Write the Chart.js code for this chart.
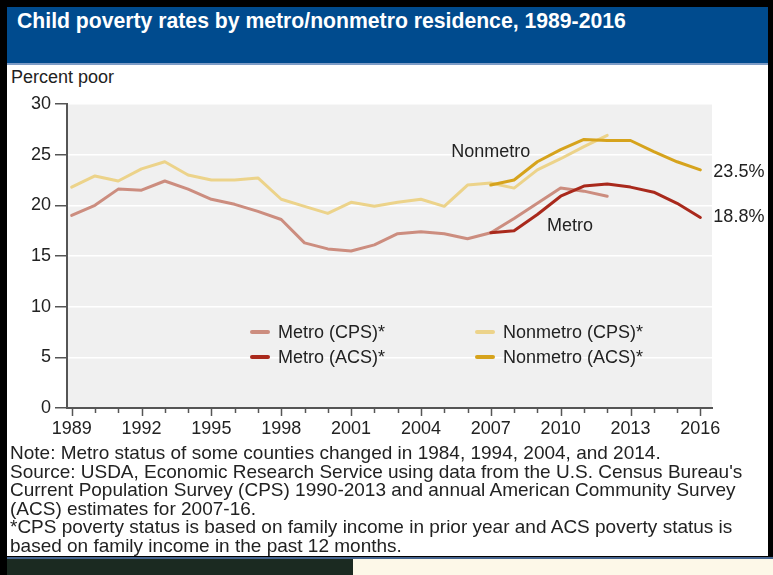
<!DOCTYPE html>
<html lang="en">
<head>
    <meta charset="UTF-8">
    <title>Child poverty rates by metro/nonmetro residence</title>
    <script src="https://cdn.jsdelivr.net/npm/chart.js"></script>
    <style>
        body { margin: 0; width: 773px; height: 575px; background: #000; position: relative; overflow: hidden;
               font-family: "Liberation Sans", Arial, sans-serif; color: #222; }
        .box { position: absolute; white-space: nowrap; }
        #panel { left: 7px; top: 7px; width: 761px; height: 549px; background: #fff; }
        #titleBar { left: 7px; top: 7px; width: 761px; height: 56px; background: #004b8e; border-bottom: 2px solid #7d9cc6; }
        #title { left: 17px; top: 9px; color: #fff; font-weight: bold; font-size: 21.2px; }
        #yTitle { left: 11px; top: 67px; font-size: 18px; }
        #chartWrap { left: 0; top: 65px; width: 773px; height: 380px; }
        #notes { left: 10px; top: 444px; width: 760px; font-size: 19px; line-height: 18.6px; }
        #rule { left: 7px; top: 557px; width: 766px; height: 2px; background: #46658f; }
        #darkBlock { left: 7px; top: 559px; width: 346px; height: 16px; background: #1b2a21; }
        #creamBlock { left: 353px; top: 559px; width: 420px; height: 16px; background: #fdf8e8; }
    </style>
</head>
<body>
    <div class="box" id="panel"></div>
    <div class="box" id="titleBar"></div>
    <div class="box" id="title">Child poverty rates by metro/nonmetro residence, 1989-2016</div>
    <div class="box" id="yTitle">Percent poor</div>
    <div class="box" id="chartWrap"><canvas id="povertyChart" width="773" height="380"></canvas></div>
    <div class="box" id="notes">
        Note: Metro status of some counties changed in 1984, 1994, 2004, and 2014.<br>
        Source: USDA, Economic Research Service using data from the U.S. Census Bureau's<br>
        Current Population Survey (CPS) 1990-2013 and annual American Community Survey<br>
        (ACS) estimates for 2007-16.<br>
        *CPS poverty status is based on family income in prior year and ACS poverty status is<br>
        based on family income in the past 12 months.
    </div>
    <div class="box" id="rule"></div>
    <div class="box" id="darkBlock"></div>
    <div class="box" id="creamBlock"></div>
    <script>
        // CPS series, 1989-2012
        const cpsYears = [1989, 1990, 1991, 1992, 1993, 1994, 1995, 1996, 1997, 1998, 1999, 2000,
                          2001, 2002, 2003, 2004, 2005, 2006, 2007, 2008, 2009, 2010, 2011, 2012];
        const metroCPS = [19.0, 20.0, 21.6, 21.5, 22.4, 21.6, 20.6, 20.1, 19.4, 18.6, 16.3, 15.7,
                          15.5, 16.1, 17.2, 17.4, 17.2, 16.7, 17.3, 18.7, 20.2, 21.7, 21.4, 20.9];
        const nonmetroCPS = [21.8, 22.9, 22.4, 23.6, 24.3, 23.0, 22.5, 22.5, 22.7, 20.6, 19.9, 19.2,
                             20.3, 19.9, 20.3, 20.6, 19.9, 22.0, 22.2, 21.7, 23.5, 24.6, 25.8, 26.9];

        // ACS series, 2007-2016
        const acsYears = [2007, 2008, 2009, 2010, 2011, 2012, 2013, 2014, 2015, 2016];
        const metroACS = [17.3, 17.5, 19.1, 20.9, 21.9, 22.1, 21.8, 21.3, 20.2, 18.8];
        const nonmetroACS = [22.0, 22.5, 24.3, 25.5, 26.5, 26.4, 26.4, 25.3, 24.3, 23.5];

        const allYears = [];
        for (let y = 1989; y <= 2016; y++) allYears.push(y);
        const labeledYears = [1989, 1992, 1995, 1998, 2001, 2004, 2007, 2010, 2013, 2016];
        const yTicks = [0, 5, 10, 15, 20, 25, 30];

        const colors = {
            metroCPS: '#cc8d7f',
            metroACS: '#a9291c',
            nonmetroCPS: '#ecd38a',
            nonmetroACS: '#d6a31c'
        };

        const FONT = '"Liberation Sans", Arial, sans-serif';
        const TEXT = '#222';

        function toPoints(xs, ys) {
            return xs.map((x, i) => ({ x: x, y: ys[i] }));
        }

        function line(label, xs, ys, color) {
            return {
                label: label,
                data: toPoints(xs, ys),
                borderColor: color,
                backgroundColor: color,
                borderWidth: 3,
                pointRadius: 0,
                tension: 0,
                borderJoinStyle: 'round',
                borderCapStyle: 'round'
            };
        }

        // gray plot background
        const plotBackground = {
            id: 'plotBackground',
            beforeDraw(chart) {
                const { ctx, chartArea: a } = chart;
                ctx.save();
                ctx.fillStyle = '#f0f0f0';
                ctx.fillRect(a.left, a.top, a.right - a.left, a.bottom - a.top);
                ctx.restore();
            }
        };

        // year ticks under the x axis, longer where a label sits
        const yearTicks = {
            id: 'yearTicks',
            afterDraw(chart) {
                const { ctx } = chart;
                const xs = chart.scales.x;
                const base = chart.chartArea.bottom;
                ctx.save();
                ctx.strokeStyle = '#555';
                ctx.lineWidth = 1.5;
                allYears.forEach(y => {
                    const px = Math.round(xs.getPixelForValue(y)) + 0.5;
                    const len = labeledYears.includes(y) ? 8 : 5;
                    ctx.beginPath();
                    ctx.moveTo(px, base);
                    ctx.lineTo(px, base + len);
                    ctx.stroke();
                });
                ctx.restore();
            }
        };

        // series names, end values and the legend block
        const labelsPlugin = {
            id: 'labelsPlugin',
            afterDatasetsDraw(chart) {
                const { ctx, chartArea: a } = chart;
                const xs = chart.scales.x, ys = chart.scales.y;
                ctx.save();
                ctx.fillStyle = TEXT;
                ctx.font = '18px ' + FONT;
                ctx.textBaseline = 'middle';

                ctx.textAlign = 'center';
                ctx.fillText('Nonmetro', xs.getPixelForValue(2007), ys.getPixelForValue(25.3));
                ctx.fillText('Metro', xs.getPixelForValue(2010.4), ys.getPixelForValue(17.95));

                ctx.textAlign = 'left';
                const lastX = xs.getPixelForValue(2016) + 13;
                const nm = nonmetroACS[nonmetroACS.length - 1];
                const m = metroACS[metroACS.length - 1];
                ctx.fillText(nm.toFixed(1) + '%', lastX, ys.getPixelForValue(nm) + 2);
                ctx.fillText(m.toFixed(1) + '%', lastX, ys.getPixelForValue(m));

                // legend: metro column, nonmetro column
                const items = [
                    [2, 0, 0], [3, 0, 1],
                    [0, 1, 0], [1, 1, 1]
                ];
                const colX = [a.left + 185, a.left + 410];
                const rowY = [a.top + 228, a.top + 253];
                items.forEach(([di, row, col]) => {
                    const ds = chart.data.datasets[di];
                    const x = colX[col], y = rowY[row];
                    ctx.strokeStyle = ds.borderColor;
                    ctx.lineWidth = 4;
                    ctx.lineCap = 'round';
                    ctx.beginPath();
                    ctx.moveTo(x, y);
                    ctx.lineTo(x + 16, y);
                    ctx.stroke();
                    ctx.fillText(ds.label, x + 26, y + 1);
                });
                ctx.restore();
            }
        };

        const ctx = document.getElementById('povertyChart').getContext('2d');
        new Chart(ctx, {
            type: 'line',
            data: {
                datasets: [
                    line('Metro (ACS)*', acsYears, metroACS, colors.metroACS),
                    line('Nonmetro (ACS)*', acsYears, nonmetroACS, colors.nonmetroACS),
                    line('Metro (CPS)*', cpsYears, metroCPS, colors.metroCPS),
                    line('Nonmetro (CPS)*', cpsYears, nonmetroCPS, colors.nonmetroCPS)
                ]
            },
            options: {
                responsive: false,
                animation: false,
                events: [],
                layout: { padding: { left: 0, top: 39, right: 61, bottom: 0 } },
                plugins: {
                    legend: { display: false },
                    tooltip: { enabled: false }
                },
                scales: {
                    x: {
                        type: 'linear',
                        min: 1988.8,
                        max: 2016.5,
                        afterBuildTicks: s => { s.ticks = allYears.map(v => ({ value: v })); },
                        afterFit: s => { s.height = 37; },
                        grid: { display: true, drawOnChartArea: false, drawTicks: false },
                        border: { display: true, color: '#555', width: 2 },
                        ticks: {
                            autoSkip: false,
                            maxRotation: 0,
                            padding: 10,
                            color: TEXT,
                            font: { family: FONT, size: 18 },
                            callback: v => labeledYears.includes(v) ? String(v) : ''
                        }
                    },
                    y: {
                        min: 0,
                        max: 30,
                        afterBuildTicks: s => { s.ticks = yTicks.map(v => ({ value: v })); },
                        afterFit: s => { s.width = 67; },
                        grid: { color: '#ffffff', lineWidth: 1.5, tickColor: '#555', tickLength: 12 },
                        border: { display: true, color: '#555', width: 2 },
                        ticks: {
                            padding: 4,
                            color: TEXT,
                            font: { family: FONT, size: 18 }
                        }
                    }
                }
            },
            plugins: [plotBackground, yearTicks, labelsPlugin]
        });
    </script>
</body>
</html>
